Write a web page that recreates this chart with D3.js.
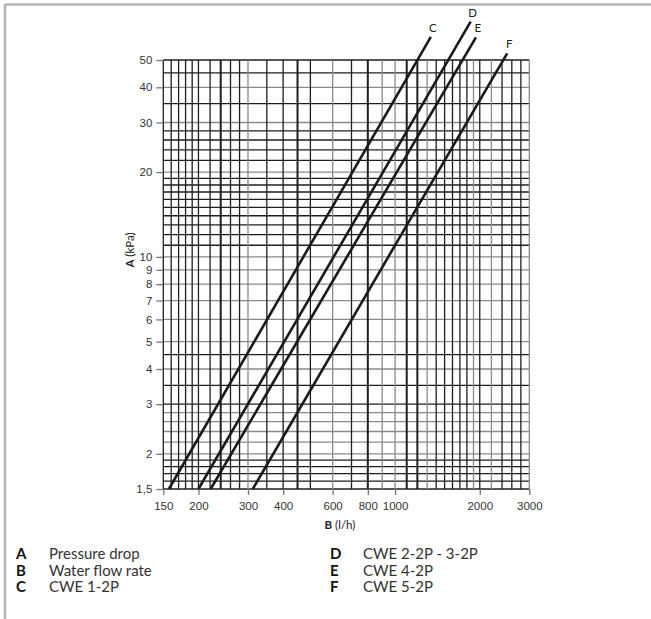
<!doctype html>
<html>
<head>
<meta charset="utf-8">
<script src="https://d3js.org/d3.v7.min.js"></script>
<style>
  body { margin: 0; background: #fff; }
  svg { display: block; font-family: Lato, "Open Sans", sans-serif; }
  .tick text { font-size: 11.5px; fill: #333; }
</style>
</head>
<body>
<svg width="651" height="619"></svg>
<script>
// water flow rate (l/h)
var xTicks = [150, 200, 300, 400, 600, 800, 1000, 2000, 3000];
var xGrid = [150, 160, 170, 180, 190, 200, 220, 240, 260, 280, 300, 350, 400, 450, 500,
             600, 700, 800, 900, 1000, 1100, 1200, 1300, 1400, 1500, 1600, 1700, 1800, 1900,
             2000, 2200, 2400, 2600, 2800, 3000];
// pressure drop (kPa)
var yTicks = [1.5, 2, 3, 4, 5, 6, 7, 8, 9, 10, 20, 30, 40, 50];
var yGrid = [1.5, 1.6, 1.7, 1.8, 1.9, 2, 2.2, 2.4, 2.6, 2.8, 3, 3.5, 4, 4.5, 5, 6, 7, 8, 9,
             10, 11, 12, 13, 14, 15, 16, 17, 18, 19, 20, 22, 24, 26, 28, 30, 35, 40, 45, 50];

// curves: straight in log-log, start and end
var seriesNames = ["C", "D", "E", "F"];
var flowStart = [157, 200, 221, 312];
var pressStart = [1.5, 1.5, 1.5, 1.5];
var flowEnd = [1340, 1856, 1938, 2503];
var pressEnd = [60.4, 68.4, 60.2, 52.8];

var legendKeys = ["A", "B", "C", "D", "E", "F"];
var legendTexts = ["Pressure drop", "Water flow rate", "CWE 1-2P", "CWE 2-2P - 3-2P", "CWE 4-2P", "CWE 5-2P"];

var svg = d3.select("svg");
var x = d3.scaleLog().domain([150, 3000]).range([163.3, 529.3]);
var y = d3.scaleLog().domain([1.5, 50]).range([489, 60]);

// grid line shades (scan look: some lines lighter)
var grayX = [300, 600, 900, 1000, 1300, 1900, 2200, 3000];
var thickX = [240, 450, 800, 1100, 1200];
var grayY = [2, 2.2, 2.4, 2.6, 2.8, 4, 5, 6, 7, 8, 9, 10, 20, 30, 40];

// frame
svg.append("line").attr("x1", 5).attr("x2", 651).attr("y1", 4.5).attr("y2", 4.5)
   .attr("stroke", "#b4b4b4").attr("stroke-width", 2.5);
svg.append("line").attr("x1", 5).attr("x2", 5).attr("y1", 4).attr("y2", 619)
   .attr("stroke", "#b4b4b4").attr("stroke-width", 2.5);

// horizontal grid
svg.append("g").selectAll("line").data(yGrid).enter().append("line")
   .attr("x1", x(150)).attr("x2", x(3000))
   .attr("y1", function(d){ return y(d); }).attr("y2", function(d){ return y(d); })
   .attr("stroke", function(d){ return grayY.indexOf(d) >= 0 ? "#8a8a8a" : "#1e1e1e"; })
   .attr("stroke-width", 1.3);

// vertical grid
svg.append("g").selectAll("line").data(xGrid).enter().append("line")
   .attr("x1", function(d){ return x(d); }).attr("x2", function(d){ return x(d); })
   .attr("y1", y(50)).attr("y2", y(1.5))
   .attr("stroke", function(d){ return grayX.indexOf(d) >= 0 ? "#8a8a8a" : "#1e1e1e"; })
   .attr("stroke-width", function(d){ return thickX.indexOf(d) >= 0 ? 2 : 1.3; });

// axes
svg.append("g").attr("transform", "translate(" + x(150) + ",0)")
   .call(d3.axisLeft(y).tickValues(yTicks).tickSize(7).tickPadding(4)
         .tickFormat(function(d){ return String(d).replace(".", ","); }));
svg.append("g").attr("transform", "translate(0," + y(1.5) + ")")
   .call(d3.axisBottom(x).tickValues(xTicks).tickSize(6).tickPadding(7)
         .tickFormat(function(d){ return d; }));
svg.selectAll(".domain").remove();
svg.selectAll(".tick line").attr("stroke", "#777").attr("stroke-width", 1.3);

// axis titles
var at = svg.append("text").attr("transform", "translate(134,250) rotate(-90)")
   .attr("text-anchor", "middle").attr("font-size", 11.5).attr("fill", "#222");
at.append("tspan").attr("font-weight", "bold").text("A");
at.append("tspan").text(" (kPa)");
var bt = svg.append("text").attr("x", 340).attr("y", 529)
   .attr("text-anchor", "middle").attr("font-size", 11.5).attr("fill", "#222");
bt.append("tspan").attr("font-weight", "bold").text("B");
bt.append("tspan").text(" (l/h)");

// curves
var curves = svg.append("g");
seriesNames.forEach(function(name, i) {
  curves.append("line")
     .attr("x1", x(flowStart[i])).attr("y1", y(pressStart[i]))
     .attr("x2", x(flowEnd[i])).attr("y2", y(pressEnd[i]))
     .attr("stroke", "#1a1a1a").attr("stroke-width", 2.6);
  curves.append("text")
     .attr("x", x(flowEnd[i]) + 2).attr("y", y(pressEnd[i]) - 5)
     .attr("text-anchor", "middle").attr("font-size", 11.5).attr("fill", "#222")
     .text(name);
});

// legend
var lg = svg.append("g");
legendKeys.forEach(function(k, i) {
  var col = Math.floor(i / 3), row = i % 3;
  var lx = col === 0 ? 16 : 330;
  var ly = 559 + row * 16.7;
  lg.append("text").attr("x", lx).attr("y", ly)
     .attr("font-size", 15).attr("font-weight", "bold").attr("fill", "#111").text(k);
  lg.append("text").attr("x", lx + 33).attr("y", ly)
     .attr("font-size", 15).attr("fill", "#333").text(legendTexts[i]);
});
</script>
</body>
</html>
